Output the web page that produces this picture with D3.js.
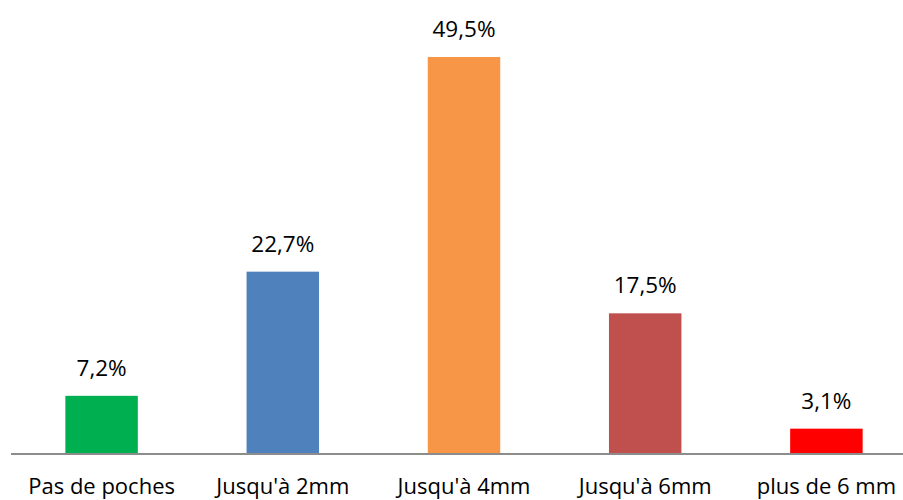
<!DOCTYPE html>
<html>
<head>
<meta charset="utf-8">
<script src="https://cdn.jsdelivr.net/npm/d3@7"></script>
<style>
  html, body { margin: 0; padding: 0; background: #fff; }
  svg { display: block; }
</style>
</head>
<body>
<svg id="chart" width="903" height="500"></svg>
<script>
const categories = ["Pas de poches", "Jusqu'à 2mm", "Jusqu'à 4mm", "Jusqu'à 6mm", "plus de 6 mm"];
const values = [7.2, 22.7, 49.5, 17.5, 3.1];
const valueLabels = ["7,2%", "22,7%", "49,5%", "17,5%", "3,1%"];
const colors = ["#00b050", "#4f81bd", "#f79646", "#c0504d", "#ff0000"];

const svg = d3.select("#chart");
const font = "'Open Sans', sans-serif";

const x = d3.scaleBand()
  .domain(categories)
  .range([11, 917])
  .paddingInner(0.6)
  .paddingOuter(0.3);

const y = d3.scaleLinear()
  .domain([0, 49.5])
  .range([453.5, 57]);

// bars
svg.append("g").selectAll("rect")
  .data(values)
  .join("rect")
  .attr("x", (d, i) => x(categories[i]))
  .attr("y", d => y(d))
  .attr("width", x.bandwidth())
  .attr("height", d => y(0) - y(d))
  .attr("fill", (d, i) => colors[i]);

// baseline axis
const axis = svg.append("g")
  .attr("transform", `translate(0,${y(0)})`)
  .call(d3.axisBottom(x).tickSize(0).tickPadding(0));
axis.select(".domain")
  .attr("d", `M11,0.5H903`)
  .attr("stroke", "#8c8c8c")
  .attr("stroke-width", 2);
axis.selectAll("text")
  .attr("dy", null)
  .attr("y", 40)
  .attr("font-family", font)
  .attr("font-size", 22)
  .attr("fill", "#000");

// value labels
svg.append("g").selectAll("text")
  .data(values)
  .join("text")
  .attr("x", (d, i) => x(categories[i]) + x.bandwidth() / 2)
  .attr("y", d => y(d) - 20)
  .attr("text-anchor", "middle")
  .attr("font-family", font)
  .attr("font-size", 22.5)
  .attr("fill", "#000")
  .text((d, i) => valueLabels[i]);
</script>
</body>
</html>
